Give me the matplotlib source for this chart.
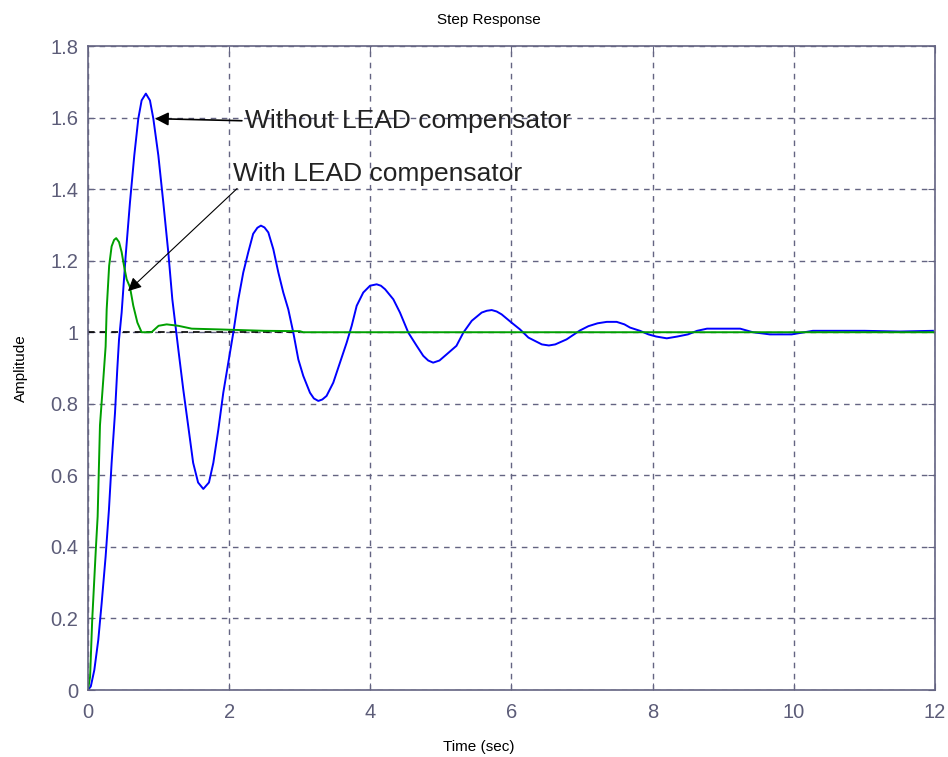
import matplotlib.pyplot as plt
import numpy as np

# step response without lead compensator
t_nolead = [0, 0.04, 0.09, 0.146, 0.194, 0.25, 0.297, 0.335, 0.383, 0.415, 0.44,
            0.477, 0.534, 0.595, 0.656, 0.713, 0.76, 0.82, 0.878, 0.926, 0.997,
            1.067, 1.138, 1.195, 1.257, 1.28, 1.35, 1.42, 1.49, 1.56, 1.634,
            1.714, 1.776, 1.847, 1.917, 1.988, 2.06, 2.13, 2.2, 2.27, 2.34, 2.4,
            2.45, 2.5, 2.555, 2.626, 2.697, 2.767, 2.838, 2.909, 2.98, 3.05, 3.145,
            3.2, 3.263, 3.32, 3.38, 3.475, 3.57, 3.665, 3.736, 3.807, 3.9, 3.996,
            4.09, 4.15, 4.21, 4.326, 4.42, 4.538, 4.657, 4.75, 4.82, 4.89, 4.98,
            5.08, 5.22, 5.318, 5.437, 5.578, 5.65, 5.72, 5.79, 5.86, 6.0, 6.12,
            6.24, 6.43, 6.53, 6.62, 6.78, 6.97, 7.09, 7.22, 7.35, 7.49, 7.6, 7.68,
            7.82, 7.94, 8.05, 8.2, 8.35, 8.5, 8.63, 8.77, 9.0, 9.24, 9.42, 9.66,
            9.97, 10.27, 10.6, 11.0, 11.5, 11.97]
y_nolead = [0, 0.01, 0.056, 0.14, 0.243, 0.373, 0.504, 0.635, 0.775, 0.896, 0.98,
            1.055, 1.214, 1.363, 1.494, 1.597, 1.648, 1.667, 1.648, 1.597, 1.494,
            1.363, 1.223, 1.092, 0.99, 0.952, 0.84, 0.738, 0.635, 0.58, 0.562,
            0.58, 0.635, 0.728, 0.831, 0.915, 1.0, 1.092, 1.167, 1.223, 1.275, 1.292,
            1.298, 1.293, 1.279, 1.232, 1.167, 1.111, 1.064, 0.999, 0.924, 0.878, 0.831,
            0.815, 0.808, 0.812, 0.822, 0.859, 0.915, 0.971, 1.018, 1.074, 1.111, 1.13,
            1.134, 1.13, 1.12, 1.092, 1.055, 0.999, 0.962, 0.934, 0.921, 0.915, 0.921,
            0.938, 0.962, 0.999, 1.032, 1.055, 1.06, 1.062, 1.058, 1.05, 1.027, 1.008,
            0.985, 0.966, 0.963, 0.966, 0.98, 1.005, 1.017, 1.025, 1.029, 1.029, 1.022, 1.013,
            1.004, 0.994, 0.988, 0.983, 0.988, 0.994, 1.004, 1.01, 1.01, 1.01, 1.0, 0.994,
            0.994, 1.004, 1.004, 1.004, 1.002, 1.004]

# step response with lead compensator
t_lead = [0, 0.03, 0.06, 0.113, 0.137, 0.17, 0.217, 0.25, 0.265, 0.3, 0.335,
          0.37, 0.4, 0.44, 0.477, 0.51, 0.548, 0.595, 0.642, 0.7, 0.76, 0.9,
          1.0, 1.115, 1.28, 1.47, 1.84, 2.5, 3.0, 3.05, 12]
y_lead = [0, 0.037, 0.196, 0.4, 0.485, 0.74, 0.868, 0.96, 1.064, 1.186, 1.24,
          1.258, 1.263, 1.252, 1.224, 1.186, 1.148, 1.126, 1.074, 1.027, 1.0, 1.0,
          1.018, 1.022, 1.018, 1.01, 1.008, 1.004, 1.003, 1.0, 1.0]

steady_t = [0, 3.0]
steady_y = [1, 1]

xticks = np.arange(0, 13, 2)
yticks = np.arange(0, 1.81, 0.2)
ytick_labels = ['0', '0.2', '0.4', '0.6', '0.8', '1', '1.2', '1.4', '1.6', '1.8']

axis_col = '#646482'

plt.rcParams['font.family'] = ['Liberation Sans', 'DejaVu Sans']

fig = plt.figure(figsize=(9.48, 7.57), dpi=100)
ax = fig.add_axes([0.0928, 0.0885, 0.8935, 0.8507])

ax.plot(steady_t, steady_y, color='black', linestyle=(0, (4, 3)), linewidth=1.2)
ax.plot(t_nolead, y_nolead, color='#0000ff', linewidth=1.4)
ax.plot(t_lead, y_lead, color='#00a000', linewidth=1.4)

ax.set_xlim(0, 12)
ax.set_ylim(0, 1.8)
ax.set_xticks(xticks)
ax.set_yticks(yticks)
ax.set_yticklabels(ytick_labels)
ax.grid(True, color=axis_col, linestyle=(0, (4, 4)), linewidth=1.0)
for s in ax.spines.values():
    s.set_color(axis_col)
    s.set_linewidth(1.2)
ax.tick_params(direction='in', length=5, top=True, right=True, colors=axis_col,
               labelsize=14.5, labelcolor='#5c5c78')
ax.tick_params(axis='y', pad=7)
ax.tick_params(axis='x', pad=9)

ax.set_title('Step Response', fontsize=11, x=0.473, pad=16)
ax.set_xlabel('Time (sec)', fontsize=11, x=0.461, labelpad=13)
ax.set_ylabel('Amplitude', fontsize=11, labelpad=16)

ax.annotate('Without LEAD compensator', xy=(0.95, 1.597), xytext=(2.22, 1.591),
            fontsize=19, va='center', color='#222222',
            arrowprops=dict(arrowstyle='-|>', color='black', lw=1.2,
                            mutation_scale=20, shrinkA=0, shrinkB=0,
                            relpos=(0, 0.5)))
ax.annotate('With LEAD compensator', xy=(0.567, 1.115), xytext=(2.05, 1.443),
            fontsize=19, va='center', color='#222222',
            arrowprops=dict(arrowstyle='-|>', color='black', lw=0.8,
                            mutation_scale=20, shrinkA=0, shrinkB=0,
                            relpos=(0.03, 0.05)))

plt.savefig('out.png', dpi=100)
